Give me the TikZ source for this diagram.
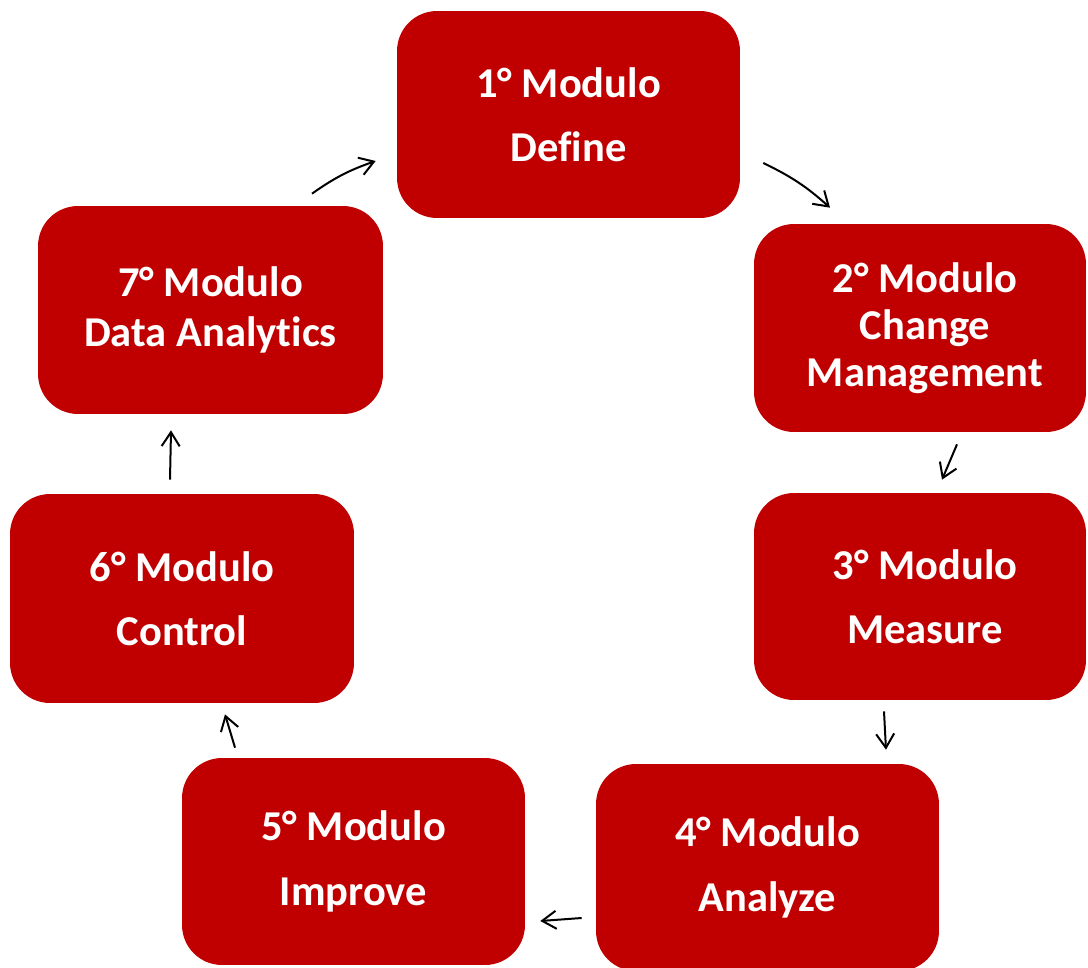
\documentclass[tikz,border=0pt]{standalone}
\usepackage{fontspec}
\setmainfont[Ligatures={NoCommon}]{Carlito}
\usetikzlibrary{arrows.meta}
\definecolor{modred}{HTML}{C00000}

\begin{document}
\begin{tikzpicture}[x=0.02cm, y=0.02cm,
  modbox/.style={fill=modred, rounded corners=0.8cm, minimum width=6.86cm, minimum height=4.14cm,
    text=white, align=center, inner sep=0pt, font=\fontsize{24.2}{26.7}\selectfont\bfseries},
  arr/.style={-{Straight Barb[length=2.8mm,width=3.6mm]}, line width=0.04cm, black}]
\useasboundingbox (0,0) rectangle (1088,-967);
\node [modbox] (n1) at (568.5,-114.5) {1° Modulo\\[10pt]Define};
\node [modbox, minimum width=6.64cm, minimum height=4.16cm] (n2) at (920,-328) {\hspace*{0.2cm}2° Modulo\\\hspace*{0.2cm}Change\\\hspace*{0.2cm}Management};
\node [modbox, minimum width=6.64cm] (n3) at (920,-596.5) {\hspace*{0.2cm}3° Modulo\\[10pt]\hspace*{0.2cm}Measure};
\node [modbox] (n4) at (767.5,-867.5) {4° Modulo\\[10pt]Analyze};
\node [modbox] (n5) at (353.5,-861.5) {5° Modulo\\[10pt]Improve};
\node [modbox, minimum width=6.88cm, minimum height=4.18cm] (n6) at (182,-598.5) {6° Modulo\\[10pt]Control};
\node [modbox, minimum width=6.9cm, minimum height=4.16cm] (n7) at (210.5,-310) {7° Modulo\\[2pt]Data Analytics};
\draw [arr] ([xshift=2.03cm,yshift=0.24cm]n7.north) to[bend left=8] ([xshift=-0.42cm,yshift=-0.93cm]n1.west);
\draw [arr] ([xshift=0.46cm,yshift=-0.97cm]n1.east) to[bend left=8] ([xshift=-1.8cm,yshift=0.32cm]n2.north);
\draw [arr] ([xshift=0.74cm,yshift=-0.24cm]n2.south) -- ([xshift=0.44cm,yshift=0.26cm]n3.north);
\draw [arr] ([xshift=-0.72cm,yshift=-0.22cm]n3.south) -- ([xshift=2.37cm,yshift=0.28cm]n4.north);
\draw [arr] ([xshift=-0.28cm,yshift=-1.01cm]n4.west) -- ([xshift=0.3cm,yshift=-1.19cm]n5.east);
\draw [arr] ([xshift=-2.37cm,yshift=0.2cm]n5.north) -- ([xshift=0.86cm,yshift=-0.22cm]n6.south);
\draw [arr] ([xshift=-0.24cm,yshift=0.28cm]n6.north) -- ([xshift=-0.79cm,yshift=-0.32cm]n7.south);
\end{tikzpicture}
\end{document}
